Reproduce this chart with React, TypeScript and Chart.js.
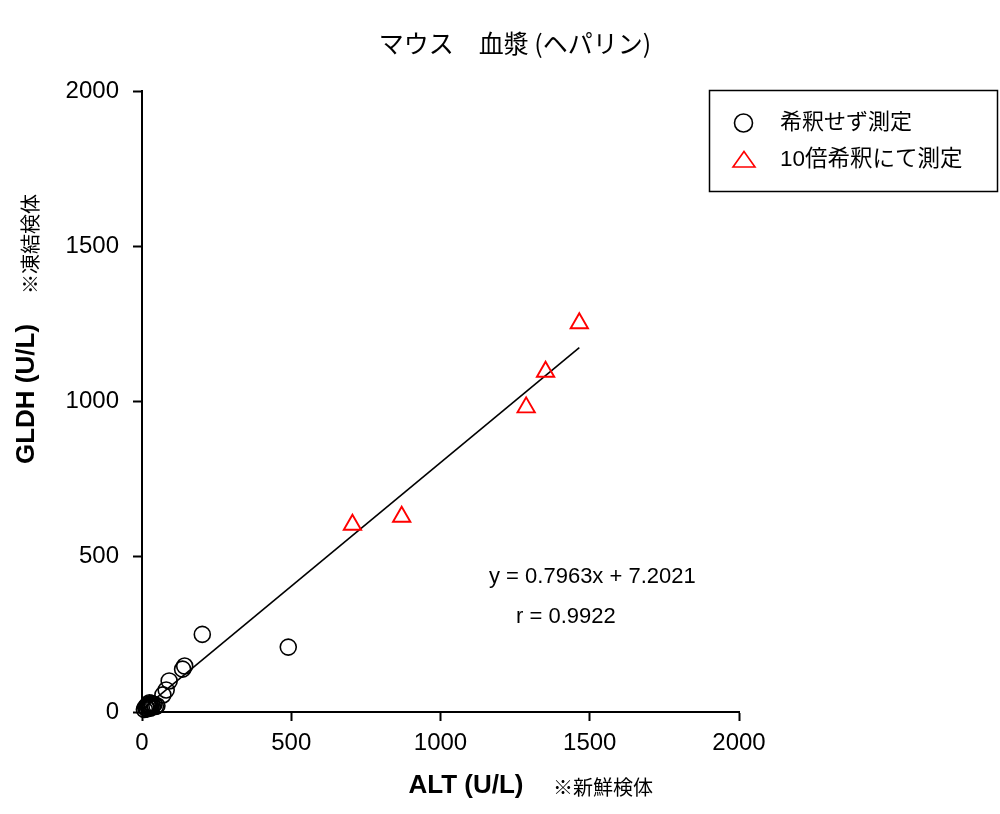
import { useEffect, useRef } from "react";
import { Chart, registerables } from "chart.js";

Chart.register(...registerables);

// 希釈せず測定 (circles)
const ALT_UNDILUTED = [202, 490, 143, 136, 91, 81, 70, 8, 12, 15, 18, 20, 22, 25, 28, 30, 32, 35, 40, 45, 50, 17, 27];
const GLDH_UNDILUTED = [250, 209, 148, 138, 100, 71, 55, 8, 15, 12, 20, 25, 18, 30, 22, 15, 28, 20, 25, 18, 20, 10, 12];

// 10倍希釈にて測定 (triangles)
const ALT_DILUTED = [705, 870, 1287, 1352, 1465];
const GLDH_DILUTED = [603, 629, 981, 1096, 1252];

const SLOPE = 0.7963;
const INTERCEPT = 7.2021;
const R_VALUE = 0.9922;

const AXIS_MAX = 2000;
const AXIS_STEP = 500;

const TITLE = "マウス　血漿 (ヘパリン)";
const X_TITLE = "ALT (U/L)";
const X_NOTE = "※新鮮検体";
const Y_TITLE = "GLDH (U/L)";
const Y_NOTE = "※凍結検体";
const LEGEND_LABELS = ["希釈せず測定", "10倍希釈にて測定"];

const LATIN = '"Liberation Sans", Arial, sans-serif';
const CJK = '"Noto Sans CJK JP", sans-serif';
const MIXED = '"Liberation Sans", "Noto Sans CJK JP", sans-serif';

const labelsPlugin = {
  id: "labelsPlugin",
  afterDraw(chart: Chart) {
    const { ctx } = chart;
    ctx.save();
    ctx.fillStyle = "#000";
    ctx.textBaseline = "middle";

    // title
    ctx.textAlign = "center";
    ctx.font = `25px ${CJK}`;
    ctx.fillText(TITLE, 515, 43);

    // x axis title
    ctx.font = `bold 26px ${LATIN}`;
    ctx.fillText(X_TITLE, 466, 786);
    ctx.textAlign = "left";
    ctx.font = `20px ${CJK}`;
    ctx.fillText(X_NOTE, 553, 787);

    // y axis titles (rotated)
    ctx.save();
    ctx.translate(27, 394);
    ctx.rotate(-Math.PI / 2);
    ctx.textAlign = "center";
    ctx.font = `bold 26px ${LATIN}`;
    ctx.fillText(Y_TITLE, 0, 0);
    ctx.restore();

    ctx.save();
    ctx.translate(30, 244);
    ctx.rotate(-Math.PI / 2);
    ctx.textAlign = "center";
    ctx.font = `20px ${CJK}`;
    ctx.fillText(Y_NOTE, 0, 0);
    ctx.restore();

    // regression text
    ctx.textAlign = "left";
    ctx.font = `22px ${LATIN}`;
    ctx.fillText(`y = ${SLOPE}x + ${INTERCEPT}`, 489, 577);
    ctx.fillText(`r = ${R_VALUE}`, 516, 617);

    // legend
    ctx.lineWidth = 1.5;
    ctx.strokeStyle = "#000";
    ctx.strokeRect(709.5, 90.5, 288, 101);

    ctx.lineWidth = 1.6;
    ctx.beginPath();
    ctx.arc(743.5, 123, 9, 0, Math.PI * 2);
    ctx.stroke();

    ctx.strokeStyle = "#ff0000";
    ctx.beginPath();
    ctx.moveTo(744, 151.5);
    ctx.lineTo(755, 167);
    ctx.lineTo(733, 167);
    ctx.closePath();
    ctx.stroke();

    ctx.font = `22px ${MIXED}`;
    ctx.fillText(LEGEND_LABELS[0], 780, 123);
    ctx.font = `22.5px ${MIXED}`;
    ctx.fillText(LEGEND_LABELS[1], 780, 160);

    ctx.restore();
  },
};

export default function App() {
  const canvasRef = useRef<HTMLCanvasElement>(null);

  useEffect(() => {
    let chart: Chart | undefined;
    if (canvasRef.current) {
      const allX = [...ALT_UNDILUTED, ...ALT_DILUTED];
      const xMin = Math.min(...allX);
      const xMax = Math.max(...allX);

      chart = new Chart(canvasRef.current, {
        type: "scatter",
        data: {
          datasets: [
            {
              type: "line",
              label: "trend",
              data: [
                { x: xMin, y: SLOPE * xMin + INTERCEPT },
                { x: xMax, y: SLOPE * xMax + INTERCEPT },
              ],
              borderColor: "#000",
              borderWidth: 1.6,
              pointRadius: 0,
              fill: false,
              order: 3,
            },
            {
              label: LEGEND_LABELS[0],
              data: ALT_UNDILUTED.map((x, i) => ({ x, y: GLDH_UNDILUTED[i] })),
              pointStyle: "circle",
              pointRadius: 8,
              borderColor: "#000",
              borderWidth: 1.6,
              backgroundColor: "rgba(0,0,0,0)",
              clip: false,
              order: 2,
            },
            {
              label: LEGEND_LABELS[1],
              data: ALT_DILUTED.map((x, i) => ({ x, y: GLDH_DILUTED[i] })),
              pointStyle: "triangle",
              pointRadius: 10,
              borderColor: "#ff0000",
              borderWidth: 1.9,
              backgroundColor: "rgba(0,0,0,0)",
              clip: false,
              order: 1,
            },
          ],
        },
        options: {
          animation: false,
          responsive: true,
          maintainAspectRatio: false,
          layout: {
            padding: { top: 91, right: 261, bottom: 0, left: 0 },
          },
          plugins: {
            legend: { display: false },
            tooltip: { enabled: false },
          },
          scales: {
            x: {
              type: "linear",
              min: 0,
              max: AXIS_MAX,
              afterFit: (scale: any) => {
                scale.height = 102;
              },
              ticks: {
                stepSize: AXIS_STEP,
                color: "#000",
                font: { family: LATIN, size: 24 },
                padding: 8,
                maxRotation: 0,
                callback: (v: any) => String(v),
              },
              grid: {
                drawOnChartArea: false,
                drawTicks: true,
                tickLength: 9,
                tickWidth: 2,
                tickColor: "#000",
              },
              border: { display: true, color: "#000", width: 2 },
            },
            y: {
              type: "linear",
              min: 0,
              max: AXIS_MAX,
              afterFit: (scale: any) => {
                scale.width = 142;
              },
              ticks: {
                stepSize: AXIS_STEP,
                color: "#000",
                font: { family: LATIN, size: 24 },
                padding: 14,
                callback: (v: any) => String(v),
              },
              grid: {
                drawOnChartArea: false,
                drawTicks: true,
                tickLength: 9,
                tickWidth: 2,
                tickColor: "#000",
              },
              border: { display: true, color: "#000", width: 2 },
            },
          },
        },
        plugins: [labelsPlugin],
      });
    }
    return () => {
      if (chart) {
        chart.destroy();
      }
    };
  }, []);

  return (
    <div
      style={{
        position: "absolute",
        left: 0,
        top: 0,
        width: 1000,
        height: 814,
        background: "#fff",
      }}
    >
      <canvas ref={canvasRef}></canvas>
    </div>
  );
}
